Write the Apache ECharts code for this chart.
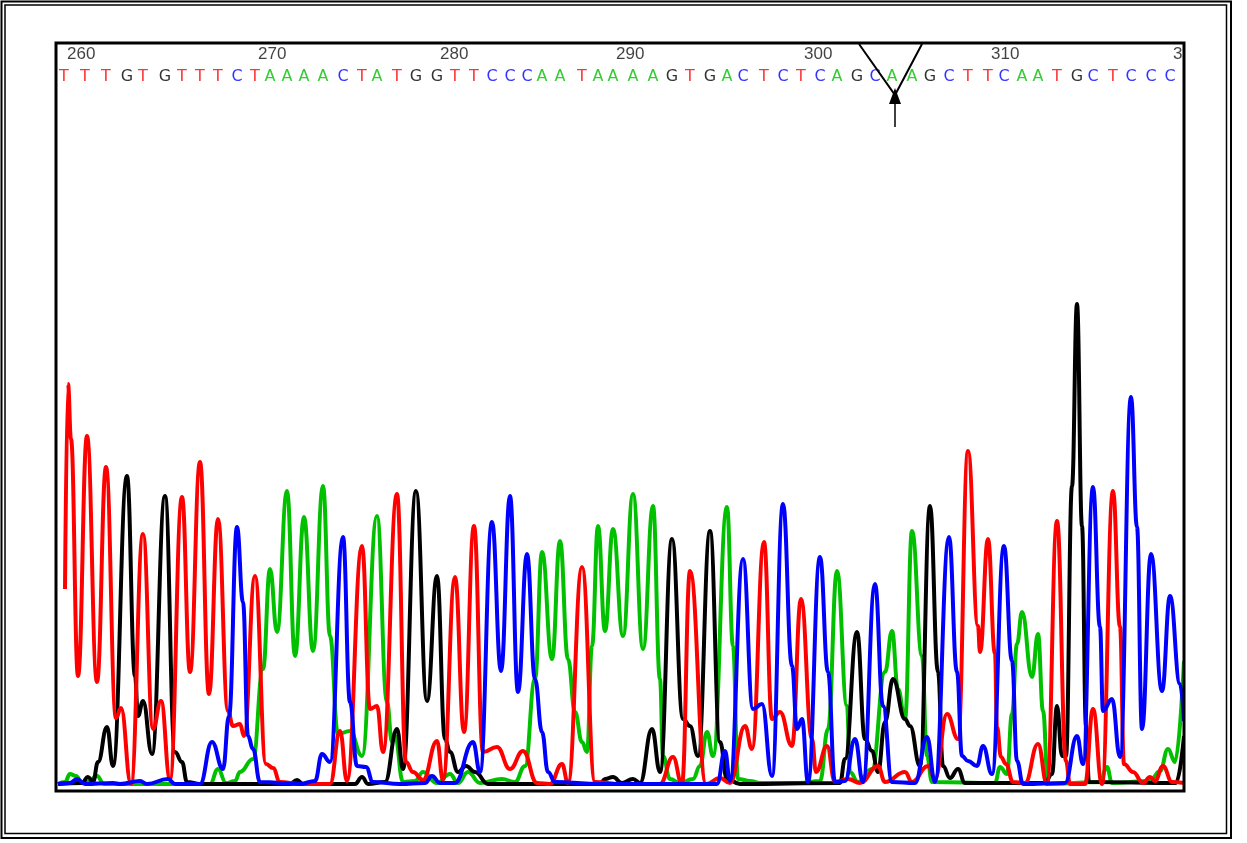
<!DOCTYPE html>
<html>
<head>
<meta charset="utf-8">
<script src="https://cdn.jsdelivr.net/npm/echarts@6/dist/echarts.min.js"></script>
<style>
html, body { margin: 0; background: #fff; }
#chart { width: 1247px; height: 843px; }
</style>
</head>
<body>
<div id="chart"></div>
<script>
// called bases and where each call sits on the scan axis
var bases = 'TTTGTGTTTCTAAAACTATGGTTCCCAATAAAAGTGACTCTCAGCAAGCTTCAATGCTCCCA';
var basePos = [64, 85, 106, 127, 143, 165, 182, 200, 218, 237, 255, 270, 287, 304, 323, 343, 362, 377, 397, 416,
    437, 455, 474, 492, 510, 527, 542, 560, 582, 598, 613, 633, 653, 672, 690, 710, 727, 743, 764, 783,
    801, 820, 837, 857, 875, 892, 912, 930, 949, 968, 988, 1004, 1022, 1038, 1057, 1077, 1093, 1113, 1131, 1151,
    1170, 1190];
var firstBase = 260;
var tickEvery = 10;

// traces [scan, signal]
var traceA = [[58,2],[65,4],[70,12],[76,10],[82,3],[88,4],[97,10],[104,2],[210,2],[218,17],[226,3],[235,5],[240,14],
    [253,27],[263,117],[270,217],[277,154],[287,295],[295,130],[304,269],[313,135],[323,300],[330,150],[338,52],
    [350,55],[362,30],[377,270],[387,84],[392,44],[395,50],[403,4],[415,5],[423,14],[437,3],[450,12],[458,3],
    [468,14],[480,3],[502,7],[515,4],[525,20],[535,107],[542,234],[552,127],[560,245],[568,127],[575,74],[582,44],
    [587,34],[592,140],[598,260],[605,155],[613,257],[623,150],[633,292],[643,137],[653,280],[660,107],[663,30],
    [670,7],[680,3],[693,7],[700,20],[707,54],[713,30],[727,279],[733,140],[738,7],[750,5],[760,3],[800,3],[820,5],
    [828,57],[837,215],[847,80],[850,14],[858,4],[872,17],[885,114],[892,155],[898,97],[905,67],[912,255],[922,130],
    [927,30],[932,4],[995,3],[1000,19],[1007,12],[1012,72],[1017,142],[1022,174],[1032,109],[1038,152],[1043,75],
    [1048,2],[1100,4],[1107,19],[1112,3],[1150,5],[1160,15],[1168,37],[1175,24],[1184,125]];

var traceC = [[58,2],[70,3],[77,7],[85,2],[113,3],[120,2],[140,5],[147,2],[168,7],[175,2],[200,2],[212,44],[223,17],
    [229,70],[237,259],[243,184],[248,50],[253,37],[260,4],[300,2],[315,5],[322,32],[330,24],[343,249],
    [350,84],[357,20],[366,19],[373,4],[400,2],[425,3],[432,10],[440,3],[455,3],[473,44],[480,14],[492,264],[501,115],
    [510,290],[518,94],[527,232],[535,107],[542,54],[548,14],[555,4],[600,2],[717,2],[725,35],[730,5],[743,227],
    [753,77],[762,82],[772,10],[783,282],[792,120],[797,57],[802,67],[808,4],[820,229],[828,114],[835,4],[845,5],
    [855,47],[863,4],[875,202],[883,80],[892,4],[915,3],[927,49],[935,4],[949,249],[957,114],[962,30],[968,25],
    [977,20],[983,40],[992,12],[1004,240],[1012,125],[1017,25],[1023,2],[1065,3],[1077,50],[1083,22],[1093,299],
    [1100,159],[1103,75],[1112,87],[1120,29],[1131,389],[1137,259],[1142,57],[1151,232],[1162,95],[1170,190],
    [1180,102],[1184,65]];

var traceG = [[58,2],[82,3],[88,9],[93,4],[98,24],[107,59],[113,20],[127,310],[135,110],[138,70],
    [143,85],[152,32],[165,290],[175,34],[182,24],[187,4],[200,2],[290,2],[297,6],[303,2],
    [355,2],[362,9],[368,2],[385,4],[397,57],[403,17],[416,295],[427,85],[437,210],
    [445,47],[450,34],[458,14],[466,20],[475,14],[488,2],[600,2],[605,7],[613,9],[622,3],[633,7],[640,3],
    [652,57],[660,14],[672,247],[683,67],[690,60],[698,30],[710,255],
    [720,44],[727,7],[740,2],[840,3],[845,27],[857,154],[865,47],[872,35],[878,14],[885,64],
    [893,107],[905,67],[910,60],[920,20],[930,280],[938,114],[943,20],[950,8],[958,17],[965,3],
    [1045,3],[1052,12],[1057,80],[1062,30],[1066,30],[1072,300],[1077,482],[1082,260],
    [1086,60],[1089,4],[1176,3],[1184,50]];

var traceT = [[65,197],[68,402],[71,347],[78,110],[87,350],[97,104],[106,319],[116,68],[121,78],[131,2],[143,252],
    [153,57],[161,85],[170,7],[182,289],[190,114],[200,324],[209,92],[218,267],[228,75],[233,60],[240,62],[244,50],
    [255,210],[266,22],[273,18],[280,4],[300,2],[330,2],[340,55],[347,5],[362,240],[370,77],[377,80],[383,34],
    [397,292],[406,24],[413,14],[423,6],[437,45],[443,6],[455,209],[464,54],[474,260],[483,34],[497,39],[510,17],
    [523,35],[537,3],[550,2],[562,22],[568,3],[582,219],[595,4],[620,2],[660,2],[673,29],[682,2],[690,215],[706,2],
    [720,8],[730,3],[745,60],[752,37],[764,244],[772,67],[780,74],[792,40],[801,187],[812,47],[816,14],[827,40],
    [835,4],[848,7],[860,3],[878,20],[885,4],[905,14],[912,4],[928,20],[935,7],[947,72],[958,47],[968,335],
    [978,160],[980,134],[988,247],[995,132],[997,59],[1001,29],[1006,22],[1013,4],[1025,3],[1038,42],[1047,2],
    [1057,265],[1066,25],[1070,2],[1085,2],[1093,77],[1102,2],[1113,295],[1120,159],[1124,22],[1133,14],[1143,3],
    [1150,9],[1155,5],[1163,20],[1172,4],[1184,3]];

var baseColor = { A: '#00c000', C: '#0000ff', G: '#000000', T: '#ff0000' };

var letterRow = 709;
var numberRow = 732;

var letterData = bases.split('').map(function (b, i) {
    return { name: b, value: [basePos[i], letterRow], label: { color: baseColor[b] } };
});
var tickData = [];
for (var i = 0; i < bases.length; i += tickEvery) {
    tickData.push({ name: String(firstBase + i), value: [basePos[i], numberRow] });
}

function trace(data, color) {
    return {
        type: 'line',
        data: data,
        showSymbol: false,
        smooth: 0.45,
        smoothMonotone: 'x',
        lineStyle: { color: color, width: 4 },
        silent: true
    };
}

var chart = echarts.init(document.getElementById('chart'));
var option = {
    animation: false,
    backgroundColor: '#fff',
    grid: { left: 56, right: 64, top: 44, bottom: 57 },
    xAxis: { type: 'value', min: 56, max: 1183, show: false },
    yAxis: { type: 'value', min: 0, max: 742, show: false },
    series: [
        trace(traceA, baseColor.A),
        trace(traceG, baseColor.G),
        trace(traceT, baseColor.T),
        trace(traceC, baseColor.C),
        {
            type: 'scatter',
            symbolSize: 0,
            data: letterData,
            label: {
                show: true,
                position: 'inside',
                formatter: '{b}',
                fontFamily: 'DejaVu Sans',
                fontSize: 16
            }
        },
        {
            type: 'scatter',
            symbolSize: 0,
            data: tickData,
            label: {
                show: true,
                position: 'right',
                distance: 3,
                formatter: '{b}',
                color: '#111',
                fontFamily: 'Liberation Sans',
                fontSize: 17
            }
        }
    ],
    graphic: [
        // hide text running past the right edge
        { type: 'rect', z: 100, shape: { x: 1185, y: 46, width: 38, height: 50 }, style: { fill: '#fff' } },
        // plot frame
        { type: 'rect', z: 101, shape: { x: 56, y: 43, width: 1128, height: 748 },
          style: { fill: 'none', stroke: '#000', lineWidth: 3 } },
        // outer double frame
        { type: 'rect', z: 101, shape: { x: 1.5, y: 1.5, width: 1229.5, height: 836.5 },
          style: { fill: 'none', stroke: '#000', lineWidth: 2 } },
        { type: 'rect', z: 101, shape: { x: 5, y: 5, width: 1221.5, height: 828.5 },
          style: { fill: 'none', stroke: '#000', lineWidth: 1.5 } },
        // edit marker
        { type: 'polyline', z: 101, shape: { points: [[859, 44], [895, 95], [922, 44]] },
          style: { fill: 'none', stroke: '#000', lineWidth: 2 } },
        { type: 'polygon', z: 101, shape: { points: [[895, 88], [889, 104], [901, 104]] },
          style: { fill: '#000' } },
        { type: 'line', z: 101, shape: { x1: 895, y1: 100, x2: 895, y2: 127 },
          style: { stroke: '#000', lineWidth: 1.5 } }
    ]
};
chart.setOption(option);
window.onresize = function () { chart.resize(); };
</script>
</body>
</html>
